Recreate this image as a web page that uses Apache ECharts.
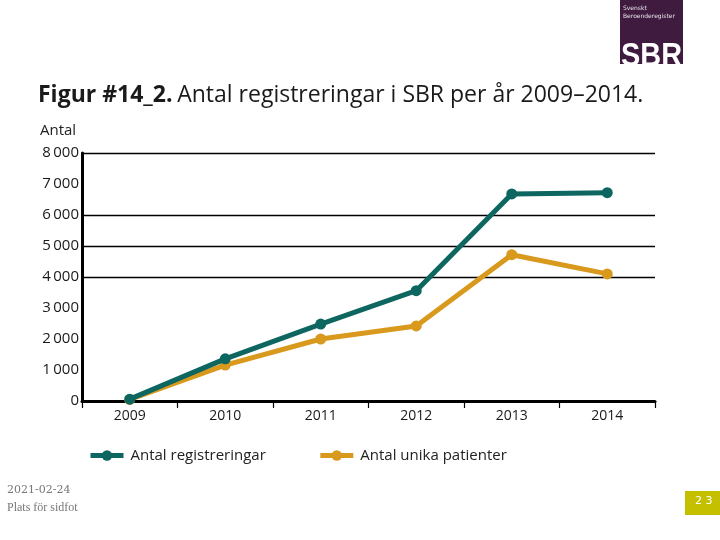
<!DOCTYPE html>
<html>
<head>
<meta charset="utf-8">
<script src="https://cdn.jsdelivr.net/npm/echarts@6/dist/echarts.min.js"></script>
<style>
html,body{margin:0;padding:0;background:#fff;}
#chart{width:720px;height:540px;}
</style>
</head>
<body>
<div id="chart"></div>
<script>
const years = ['2009', '2010', '2011', '2012', '2013', '2014'];
const registreringar = [60, 1360, 2480, 3560, 6680, 6720];
const unikaPatienter = [50, 1160, 2000, 2420, 4720, 4100];
const yTicks = [0, 1000, 2000, 3000, 4000, 5000, 6000, 7000, 8000];
const yTickLabels = ['0', '1\u2009000', '2\u2009000', '3\u2009000', '4\u2009000', '5\u2009000', '6\u2009000', '7\u2009000', '8\u2009000'];
const gridValues = [4000, 5000, 6000, 8000];

const FONT = 'Open Sans';
const TEAL = '#0d6660';
const ORANGE = '#d8991c';

const chart = echarts.init(document.getElementById('chart'), null, {renderer: 'canvas'});
chart.setOption({
  backgroundColor: '#ffffff',
  animation: false,
  textStyle: {fontFamily: FONT},
  grid: {left: 82, right: 65, top: 153, bottom: 139, containLabel: false},
  title: {
    text: '{b|Figur #14_2.} {n|Antal registreringar i SBR per år 2009–2014.}',
    left: 33, top: 79,
    textStyle: {
      fontWeight: 'normal',
      rich: {
        b: {fontFamily: FONT, fontSize: 23, fontWeight: 'bold', color: '#1a1a1a'},
        n: {fontFamily: FONT, fontSize: 23, fontWeight: 'normal', color: '#1a1a1a'}
      }
    }
  },
  legend: {
    left: 83, top: 443,
    itemWidth: 33, itemHeight: 13, itemGap: 52,
    lineStyle: {width: 5},
    textStyle: {fontFamily: FONT, fontSize: 15, color: '#222', padding: [0, 0, 0, 2]},
    data: ['Antal registreringar', 'Antal unika patienter']
  },
  xAxis: {
    type: 'category',
    data: years,
    boundaryGap: true,
    axisLine: {lineStyle: {color: '#000', width: 3}},
    axisTick: {show: true, length: 7, lineStyle: {color: '#000', width: 1.2}},
    axisLabel: {fontFamily: FONT, fontSize: 14, color: '#1a1a1a', margin: 8},
    splitLine: {show: false}
  },
  yAxis: {
    type: 'value',
    min: 0, max: 8000, interval: 1000,
    axisLine: {show: true, lineStyle: {color: '#000', width: 3}},
    axisTick: {show: false},
    axisLabel: {
      fontFamily: FONT, fontSize: 15, color: '#1a1a1a', margin: 3,
      formatter: function (v) { const i = yTicks.indexOf(v); return i >= 0 ? yTickLabels[i] : ''; }
    },
    splitLine: {show: false}
  },
  graphic: [
    {type: 'text', left: 40, top: 123, style: {text: 'Antal', font: '15px "Open Sans"', fill: '#222'}},
    {type: 'rect', shape: {x: 620, y: 0, width: 63, height: 64}, style: {fill: '#3e1b3f'}},
    {type: 'text', left: 623, top: 5, style: {text: 'Svenskt', font: '6px "DejaVu Sans"', fill: '#e8e0e8'}},
    {type: 'text', left: 623, top: 13, style: {text: 'Beroenderegister', font: '6px "DejaVu Sans"', fill: '#e8e0e8'}},
    {type: 'group', x: 621, y: 40, children: [
      {type: 'text', x: 0, y: 0, scaleX: 0.85, style: {text: 'SBR', font: 'bold 34px "Liberation Sans"', fill: '#ffffff'}},
    ], clipPath: {type: 'rect', shape: {x: 0, y: 0, width: 63, height: 24}}},
    {type: 'text', left: 7, top: 485, style: {text: '2021-02-24', font: '11px "DejaVu Serif"', fill: '#777'}},
    {type: 'text', left: 7, top: 502, style: {text: 'Plats för sidfot', font: '12px "Liberation Serif"', fill: '#777'}},
    {type: 'rect', shape: {x: 685, y: 491, width: 35, height: 24}, style: {fill: '#c4c000'}},
    {type: 'text', left: 695, top: 496, style: {text: '2 3', font: '11px "DejaVu Sans"', fill: '#ffffff'}}
  ],
  series: [
    {
      name: 'Antal unika patienter', type: 'line', data: unikaPatienter,
      z: 3,
      symbol: 'circle', symbolSize: 11,
      lineStyle: {color: ORANGE, width: 5},
      itemStyle: {color: ORANGE},
      markLine: {
        silent: true, symbol: 'none', label: {show: false},
        lineStyle: {color: '#000', width: 1.3, type: 'solid'},
        z: 1,
        data: gridValues.map(v => ({yAxis: v}))
      }
    },
    {
      name: 'Antal registreringar', type: 'line', data: registreringar,
      z: 4,
      symbol: 'circle', symbolSize: 11,
      lineStyle: {color: TEAL, width: 5},
      itemStyle: {color: TEAL}
    }
  ]
});
</script>
</body>
</html>
